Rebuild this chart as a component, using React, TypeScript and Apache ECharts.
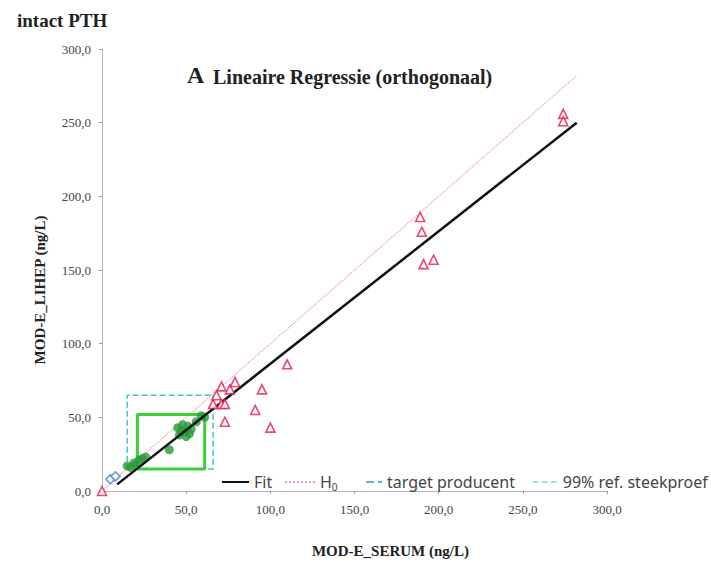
import React, { useEffect, useRef } from "react";
import * as echarts from "echarts";

const xTicksMin = 0;
const xTicksMax = 300;
const tickStep = 50;

const fitX = [9, 282];
const fitY = [4.5, 250];
const h0X = [0, 282];
const h0Y = [0, 282];

const targetBoxX = [15, 66];
const targetBoxY = [15, 65];
const refBoxX = [21, 61];
const refBoxY = [15, 52];

const greenX = [15, 17, 19, 20, 22, 24, 26, 40, 45, 46, 47, 48, 49, 50, 51, 52, 53, 56, 59, 61];
const greenY = [17, 16, 19, 18, 21, 22, 23, 28, 43, 38, 41, 45, 40, 37, 44, 39, 42, 47, 51, 50];

const redX = [0, 66, 68, 71, 71, 73, 73, 76, 79, 91, 95, 100, 110, 189, 190, 191, 197, 274, 274];
const redY = [0, 59, 65, 71, 59, 59, 47, 69, 74, 55, 69, 43, 86, 186, 176, 154, 157, 256, 251];

const blueX = [5, 8];
const blueY = [8, 10];

const legendNames = ["Fit", "H0", "target producent", "99% ref. steekproef"];

const pairs = (xs: number[], ys: number[]) => xs.map((x, i) => [x, ys[i]]);
const box = (xs: number[], ys: number[]) => [
  [xs[0], ys[0]],
  [xs[1], ys[0]],
  [xs[1], ys[1]],
  [xs[0], ys[1]],
  [xs[0], ys[0]],
];

const fmt = (v: number) => v.toFixed(1).replace(".", ",");
const serif = "Liberation Serif";

export default function App() {
  const ref = useRef<HTMLDivElement>(null);
  useEffect(() => {
    if (!ref.current) return;
    const chart = echarts.init(ref.current, null, { renderer: "svg" });
    const axisCommon = {
      type: "value" as const,
      min: xTicksMin,
      max: xTicksMax,
      interval: tickStep,
      splitLine: { show: false },
      axisLine: { show: true, lineStyle: { color: "#b4b4c0", width: 1 } },
      axisTick: { show: true, length: 3, lineStyle: { color: "#999" } },
      axisLabel: {
        formatter: fmt,
        fontFamily: serif,
        fontSize: 13,
        color: "#444",
      },
      nameLocation: "middle" as const,
    };
    const nameStyle = {
      fontFamily: serif,
      fontWeight: "bold" as const,
      fontSize: 15,
      color: "#222",
    };
    const legendText = {
      fontFamily: "Noto Sans",
      fontSize: 16,
      color: "#444",
      rich: { sub: { fontFamily: "Noto Sans", fontSize: 10, color: "#444", padding: [9, 0, 0, 0] } },
    };
    const mkLegend = (name: string, left: number, width: number, extra: any = {}) => ({
      left,
      top: 469,
      itemWidth: width,
      itemHeight: 14,
      itemStyle: { opacity: 0 },
      textStyle: legendText,
      formatter: (n: string) => (n === "H0" ? "H{sub|0}" : n),
      data: [{ name, itemStyle: { opacity: 0 }, ...extra }],
    });
    chart.setOption({
      animation: false,
      backgroundColor: "#fff",
      title: [
        {
          text: "intact PTH",
          left: 12,
          top: 6,
          textStyle: { fontFamily: serif, fontWeight: "bold", fontSize: 19, color: "#222" },
        },
        {
          text: "A",
          left: 182,
          top: 58,
          textStyle: { fontFamily: serif, fontWeight: "bold", fontSize: 24, color: "#222" },
        },
        {
          text: "Lineaire Regressie (orthogonaal)",
          left: 208,
          top: 62,
          textStyle: { fontFamily: serif, fontWeight: "bold", fontSize: 20, color: "#222" },
        },
      ],
      grid: { left: 102, top: 49, right: 104, bottom: 71 },
      xAxis: {
        ...axisCommon,
        name: "MOD-E_SERUM (ng/L)",
        nameGap: 52,
        nameTextStyle: { ...nameStyle, padding: [0, 0, 0, 72] },
        axisLabel: { ...axisCommon.axisLabel, margin: 12 },
      },
      yAxis: {
        ...axisCommon,
        name: "MOD-E_LIHEP (ng/L)",
        nameGap: 55,
        nameRotate: 90,
        nameTextStyle: { ...nameStyle, padding: [0, 40, 0, 0] },
        axisLabel: { ...axisCommon.axisLabel, margin: 11 },
      },
      legend: [
        mkLegend(legendNames[0], 216, 27),
        mkLegend(legendNames[1], 279, 30),
        mkLegend(legendNames[2], 360, 16, { lineStyle: { color: "#5ab4e0", type: "dashed" } }),
        mkLegend(legendNames[3], 527, 25, { lineStyle: { color: "#7fe0c4", type: "dashed", width: 1.5 } }),
      ],
      series: [
        {
          name: legendNames[1],
          type: "line",
          data: pairs(h0X, h0Y),
          symbol: "none",
          lineStyle: { color: "#e89ab0", type: "dotted", width: 1.2 },
          itemStyle: { color: "#e89ab0" },
          z: 1,
        },
        {
          name: legendNames[2],
          type: "line",
          data: box(targetBoxX, targetBoxY),
          symbol: "none",
          lineStyle: { color: "#45c0d4", type: "dashed", width: 1.5 },
          itemStyle: { color: "#45c0d4" },
          z: 2,
        },
        {
          name: legendNames[3],
          type: "line",
          data: box(refBoxX, refBoxY),
          symbol: "none",
          lineStyle: { color: "#3ccf3c", type: "solid", width: 3 },
          itemStyle: { color: "#3ccf3c" },
          z: 2,
        },
        {
          name: "green",
          type: "scatter",
          data: pairs(greenX, greenY),
          symbol: "circle",
          symbolSize: 9,
          itemStyle: { color: "#2a9a3a" },
          z: 3,
        },
        {
          name: legendNames[0],
          type: "line",
          data: pairs(fitX, fitY),
          symbol: "none",
          lineStyle: { color: "#111", width: 2.5 },
          itemStyle: { color: "#111" },
          z: 4,
        },
        {
          name: "red",
          type: "scatter",
          data: pairs(redX, redY),
          symbol: "triangle",
          symbolSize: 9,
          itemStyle: { color: "#fff", borderColor: "#e8184a", borderWidth: 1.6 },
          z: 5,
        },
        {
          name: "blue",
          type: "scatter",
          data: pairs(blueX, blueY),
          symbol: "diamond",
          symbolSize: 9,
          itemStyle: { color: "#fff", borderColor: "#3a80e0", borderWidth: 1.6 },
          z: 5,
        },
      ],
    });
    return () => chart.dispose();
  }, []);
  return (
    <div
      ref={ref}
      style={{ position: "fixed", left: 0, top: 0, width: 711, height: 563 }}
    />
  );
}
